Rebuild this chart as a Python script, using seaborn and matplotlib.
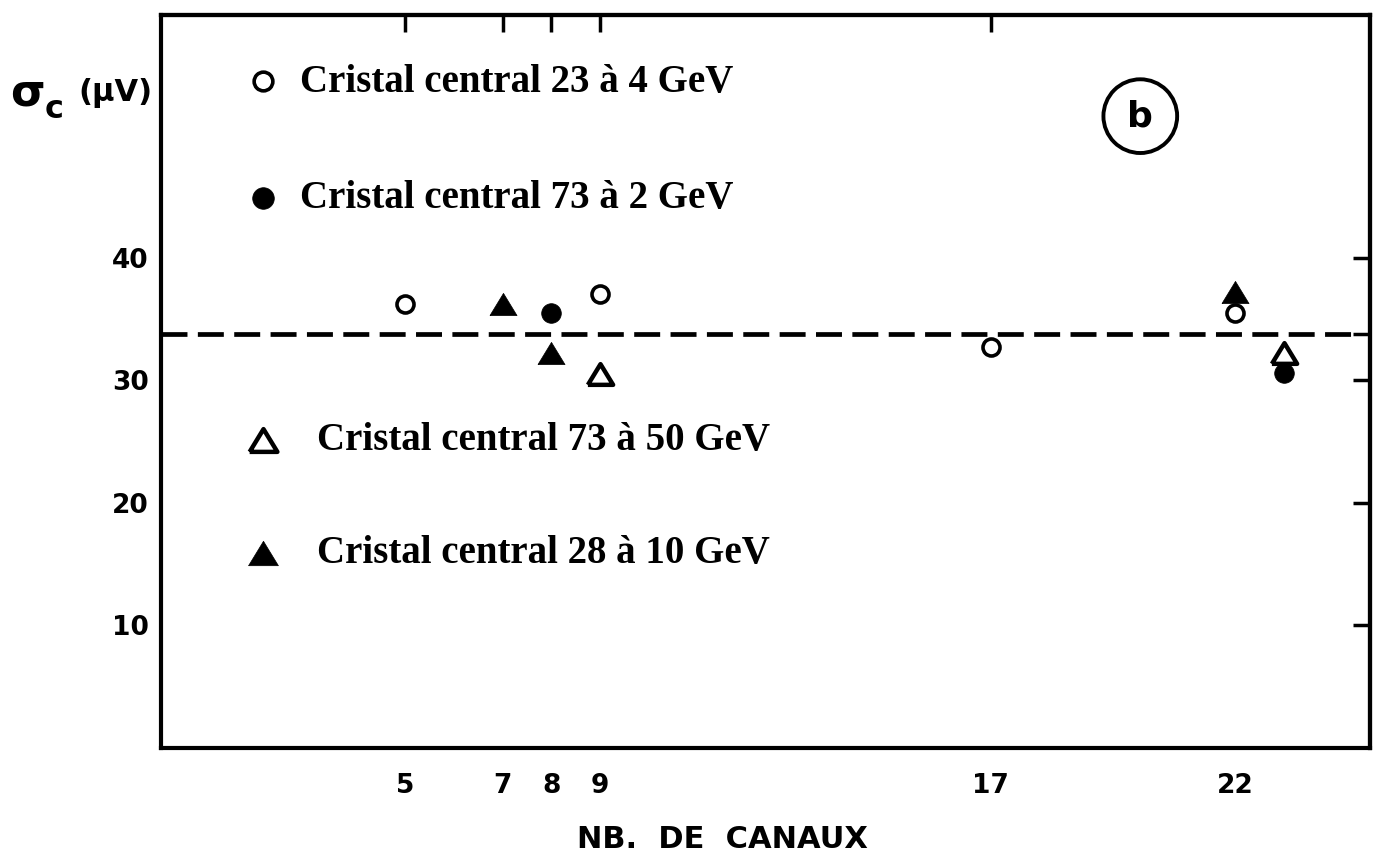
import numpy as np
import pandas as pd
import matplotlib
matplotlib.use('Agg')
import matplotlib.pyplot as plt
import seaborn as sns

# Valeurs (b) : sigma_c en fonction du nombre de canaux
canaux_23_4 = [5, 9, 17, 22]
sigma_23_4 = [36.2, 37.0, 32.7, 35.5]

canaux_73_2 = [8, 23]
sigma_73_2 = [35.5, 30.6]

canaux_73_50 = [9, 23]
sigma_73_50 = [30.5, 32.2]

canaux_28_10 = [7, 8, 22]
sigma_28_10 = [36.2, 32.2, 37.2]

sigma_moyen = 33.8

ticks_x = [5, 7, 8, 9, 17, 22]
ticks_x_haut = [5, 7, 8, 9, 17]
ticks_y = [10, 20, 30, 40]
ticks_y_droite = [10, 20, 30, sigma_moyen, 40]

labels = ['Cristal central 23 à 4 GeV', 'Cristal central 73 à 2 GeV',
          'Cristal central 73 à 50 GeV', 'Cristal central 28 à 10 GeV']

sns.set_style('white')
plt.rcParams['font.family'] = ['DejaVu Sans']
plt.rcParams['text.color'] = 'black'
plt.rcParams['axes.labelcolor'] = 'black'
plt.rcParams['xtick.color'] = 'black'
plt.rcParams['ytick.color'] = 'black'

dados = pd.concat([
    pd.DataFrame({'canaux': canaux_23_4, 'sigma': sigma_23_4, 'serie': labels[0]}),
    pd.DataFrame({'canaux': canaux_73_2, 'sigma': sigma_73_2, 'serie': labels[1]}),
    pd.DataFrame({'canaux': canaux_73_50, 'sigma': sigma_73_50, 'serie': labels[2]}),
    pd.DataFrame({'canaux': canaux_28_10, 'sigma': sigma_28_10, 'serie': labels[3]}),
])

# triangle un peu aplati, comme sur l'original
tri = [(-1, -0.82), (1, -0.82), (0, 0.82), (-1, -0.82)]
styles = {
    labels[0]: dict(marker='o', s=150, facecolor='white', edgecolor='black', linewidth=2.6),
    labels[1]: dict(marker='o', s=200, facecolor='black', edgecolor='black', linewidth=0.5),
    labels[2]: dict(marker=tri, s=330, facecolor='white', edgecolor='black', linewidth=3.2),
    labels[3]: dict(marker=tri, s=380, facecolor='black', edgecolor='black', linewidth=0.5),
}

fig = plt.figure(figsize=(13.93, 8.52), dpi=100)
ax = fig.add_axes([161 / 1393, 1 - 748 / 852, 1209 / 1393, 733 / 852])

for serie in labels:
    sous = dados[dados['serie'] == serie]
    sns.scatterplot(data=sous, x='canaux', y='sigma', ax=ax, label=serie,
                    zorder=3, **styles[serie])

ax.axhline(sigma_moyen, color='black', lw=3.4, dashes=(5.5, 2.2), zorder=2,
           xmax=0.985)

ax.set_xlim(0, 24.77)
ax.set_ylim(0, 59.8)

for sp in ax.spines.values():
    sp.set_linewidth(3)
    sp.set_color('black')

ax.set_xticks(ticks_x)
ax.set_yticks(ticks_y)
ax.tick_params(direction='in', length=12, width=2.5, labelsize=19, pad=9)
ax.tick_params(axis='x', pad=18)
for lab in ax.get_xticklabels() + ax.get_yticklabels():
    lab.set_fontweight('bold')

# graduations sans étiquettes en haut et à droite
haut = ax.secondary_xaxis('top')
haut.set_xticks(ticks_x_haut)
haut.tick_params(direction='in', length=12, width=2.5, labeltop=False)
droite = ax.secondary_yaxis('right')
droite.set_yticks(ticks_y_droite)
droite.tick_params(direction='in', length=12, width=2.5, labelright=False)
for sa in (haut, droite):
    for sp in sa.spines.values():
        sp.set_linewidth(3)

ax.set_xlabel('NB.  DE  CANAUX', fontsize=22, fontweight='bold')
ax.xaxis.set_label_coords(0.464, -0.105)
ax.set_ylabel('')

fig.text(10 / 1393, 1 - 106 / 852, 'σ', fontsize=32, fontweight='bold')
fig.text(45 / 1393, 1 - 118 / 852, 'c', fontsize=23, fontweight='bold')
fig.text(78 / 1393, 1 - 101 / 852, '(μV)', fontsize=22, fontweight='bold')

ax.text(0.81, 0.862, 'b', transform=ax.transAxes, fontsize=26, fontweight='bold',
        ha='center', va='center',
        bbox=dict(boxstyle='circle,pad=0.55', fc='white', ec='black', lw=2.8))

handles, labs = ax.get_legend_handles_labels()
police = dict(family='Liberation Serif', weight='bold', size=28)
leg1 = ax.legend(handles[:2], labs[:2], loc='upper left', bbox_to_anchor=(0.0554, 0.955),
                 frameon=False, prop=police, labelspacing=2.05, handlelength=1.0,
                 handletextpad=0.45, scatterpoints=1, borderaxespad=0, markerscale=1.1)
ax.add_artist(leg1)
ax.legend(handles[2:], labs[2:], loc='upper left', bbox_to_anchor=(0.0554, 0.466),
          frameon=False, prop=police, labelspacing=1.95, handlelength=1.0,
          handletextpad=0.88, scatterpoints=1, borderaxespad=0, markerscale=1.1)

fig.savefig('out.png', dpi=100, facecolor='white')
